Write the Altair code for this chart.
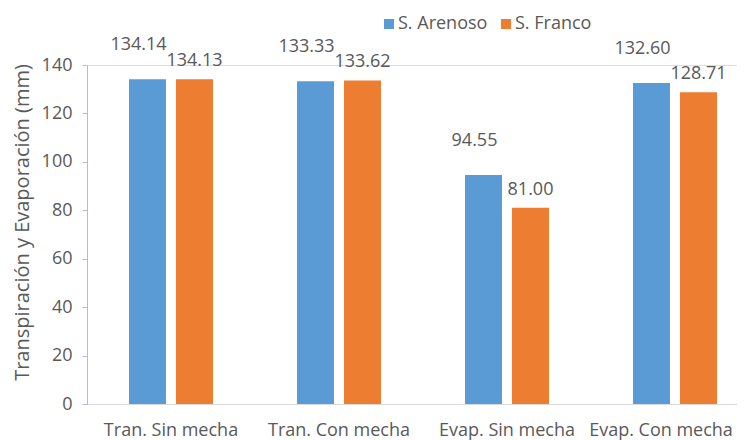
import altair as alt
import pandas as pd

categories = ["Tran. Sin mecha", "Tran. Con mecha", "Evap. Sin mecha", "Evap. Con mecha"]
series = ["S. Arenoso", "S. Franco"]
arenoso = [134.14, 133.33, 94.55, 132.60]
franco = [134.13, 133.62, 81.00, 128.71]
colors = ["#5B9BD5", "#ED7D31"]
y_ticks = [0, 20, 40, 60, 80, 100, 120, 140]

rows = []
for c, a, f in zip(categories, arenoso, franco):
    rows.append({"cat": c, "serie": series[0], "value": a, "label": f"{a:.2f}"})
    rows.append({"cat": c, "serie": series[1], "value": f, "label": f"{f:.2f}"})
df = pd.DataFrame(rows)

FONT = "Open Sans"
GRAY = "#595959"

x_enc = alt.X(
    "cat:N",
    sort=categories,
    scale=alt.Scale(range=[0, 672], paddingInner=0, paddingOuter=0),
    axis=alt.Axis(
        title=None, labelAngle=0, ticks=False, domainColor="#D9D9D9",
        labelFontSize=18, labelColor=GRAY, labelFont=FONT, labelPadding=17,
        labelOffset={
            "condition": {"test": f"datum.value == '{categories[-1]}'", "value": -14},
            "value": 0,
        },
    ),
)
xo_enc = alt.XOffset(
    "serie:N", sort=series,
    scale=alt.Scale(paddingInner=0.213, paddingOuter=0.894),
)
y_enc = alt.Y(
    "value:Q",
    scale=alt.Scale(domain=[0, 140], nice=False),
    axis=alt.Axis(
        values=y_ticks, grid=False, title="Transpiración y Evaporación (mm)",
        domainColor="#A9BFDA", tickColor="#A9BFDA", tickSize=5,
        labelFontSize=18, labelColor=GRAY, labelFont=FONT, labelPadding=10,
        titleFontSize=20, titleColor=GRAY, titleFont=FONT, titleFontWeight="normal",
        titleX=-65, titleY=157, titleBaseline="middle",
    ),
)

base = alt.Chart(df)

bars = base.mark_bar().encode(
    x=x_enc,
    xOffset=xo_enc,
    y=y_enc,
    color=alt.Color(
        "serie:N",
        scale=alt.Scale(domain=series, range=colors),
        legend=alt.Legend(
            title=None, orient="none", legendX=293, legendY=-50,
            direction="horizontal", symbolType="square", symbolSize=100,
            symbolStrokeWidth=0, labelFontSize=18, labelColor=GRAY, labelFont=FONT,
            columnPadding=9, labelOffset=0, padding=0,
        ),
    ),
)

text_a = base.transform_filter(alt.datum.serie == series[0]).mark_text(
    fontSize=18, font=FONT, color=GRAY, baseline="middle", dy=-34, dx=-9
).encode(x=x_enc, xOffset=xo_enc, y=y_enc, text="label:N")

text_f = base.transform_filter(alt.datum.serie == series[1]).mark_text(
    fontSize=18, font=FONT, color=GRAY, baseline="middle", dy=-18
).encode(x=x_enc, xOffset=xo_enc, y=y_enc, text="label:N")

chart = (
    alt.layer(bars, text_a, text_f)
    .properties(
        width=650, height=339,
        autosize=alt.AutoSizeParams(type="none"),
        padding={"left": 79, "top": 57, "right": 0, "bottom": 36},
    )
    .configure_view(stroke=None)
    .configure(background="white")
)

chart.save("out.html", embed_options={"renderer": "svg", "actions": False})
